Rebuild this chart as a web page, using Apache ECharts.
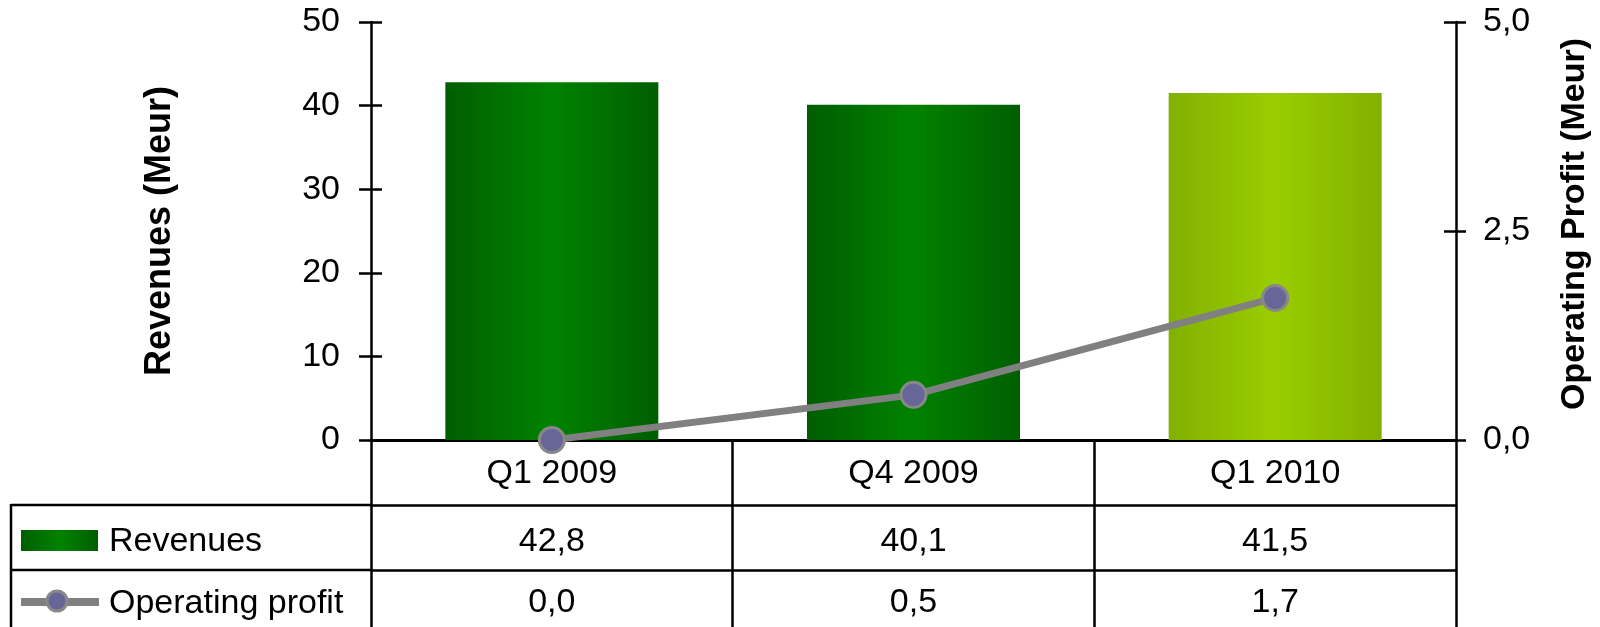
<!DOCTYPE html>
<html>
<head>
<meta charset="utf-8">
<script src="https://cdn.jsdelivr.net/npm/echarts@6/dist/echarts.min.js"></script>
<style>
  html, body { margin: 0; padding: 0; background: #fff; }
  #chart { width: 1600px; height: 627px; }
</style>
</head>
<body>
<div id="chart"></div>
<script>
// Revenues (bars) + operating profit (line) with data table below
const quarters = ['Q1 2009', 'Q4 2009', 'Q1 2010']
const revenues = [42.8, 40.1, 41.5]
const operatingProfit = [0.0, 0.54, 1.7]
const revenueAxis = { min: 0, max: 50, interval: 10 }
const profitAxis = { min: 0, max: 5, interval: 2.5 }
const seriesNames = ['Revenues', 'Operating profit']

const FONT = '"Liberation Sans", Arial, sans-serif'
const comma = (v) => v.toFixed(1).replace('.', ',')

function barGradient(edge, mid) {
  return new echarts.graphic.LinearGradient(0, 0, 1, 0, [
    { offset: 0, color: edge },
    { offset: 0.5, color: mid },
    { offset: 1, color: edge }
  ])
}
const darkGreen = () => barGradient('#005e00', '#008200')
const limeGreen = () => barGradient('#82b000', '#9acd00')

const chart = echarts.init(document.getElementById('chart'))

const labelBase = { fontSize: 34, color: '#000', fontFamily: FONT, interval: 0, verticalAlign: 'middle' }

chart.setOption({
  animation: false,
  textStyle: { fontFamily: FONT },
  grid: { left: 371, right: 142, top: 22, bottom: 187, containLabel: false },
  xAxis: [
    {
      type: 'category',
      data: quarters,
      axisLine: { lineStyle: { color: '#000', width: 3 } },
      axisTick: { show: true, interval: 0, length: 187, lineStyle: { color: '#000', width: 2.5 } },
      axisLabel: { ...labelBase, margin: 34 }
    },
    {
      type: 'category',
      data: revenues.map(comma),
      position: 'bottom',
      offset: 65,
      axisLine: { onZero: false, lineStyle: { color: '#000', width: 2.5 } },
      axisTick: { show: false },
      axisLabel: { ...labelBase, margin: 37 }
    },
    {
      type: 'category',
      data: operatingProfit.map(comma),
      position: 'bottom',
      offset: 130,
      axisLine: { onZero: false, lineStyle: { color: '#000', width: 2.5 } },
      axisTick: { show: false },
      axisLabel: { ...labelBase, margin: 33 }
    }
  ],
  yAxis: [
    {
      type: 'value',
      position: 'left',
      ...revenueAxis,
      name: 'Revenues (Meur)',
      nameLocation: 'middle',
      nameRotate: 90,
      nameGap: 193,
      nameTextStyle: { fontSize: 36, fontWeight: 'bold', color: '#000', fontFamily: FONT },
      axisLine: { show: true, lineStyle: { color: '#000', width: 2.5 } },
      axisTick: { show: true, length: 12, lineStyle: { color: '#000', width: 2.5 } },
      axisLabel: { fontSize: 34, color: '#000', fontFamily: FONT, margin: 31 },
      splitLine: { show: false }
    },
    {
      type: 'value',
      position: 'right',
      ...profitAxis,
      name: 'Operating Profit (Meur)',
      nameLocation: 'middle',
      nameRotate: 90,
      nameGap: 102,
      nameTextStyle: { fontSize: 34, fontWeight: 'bold', color: '#000', fontFamily: FONT, padding: [0, 0, 0, 14] },
      axisLine: { show: true, lineStyle: { color: '#000', width: 2.5 } },
      axisTick: { show: true, length: 10, lineStyle: { color: '#000', width: 2.5 } },
      axisLabel: { fontSize: 34, color: '#000', fontFamily: FONT, margin: 27, formatter: comma },
      splitLine: { show: false }
    },
    {
      // inner half of the crossing ticks on the left
      type: 'value',
      position: 'left',
      ...revenueAxis,
      axisLine: { show: false },
      axisTick: { show: true, inside: true, length: 11, lineStyle: { color: '#000', width: 2.5 } },
      axisLabel: { show: false },
      splitLine: { show: false }
    },
    {
      type: 'value',
      position: 'right',
      ...profitAxis,
      axisLine: { show: false },
      axisTick: { show: true, inside: true, length: 12, lineStyle: { color: '#000', width: 2.5 } },
      axisLabel: { show: false },
      splitLine: { show: false }
    }
  ],
  series: [
    {
      name: seriesNames[0],
      type: 'bar',
      yAxisIndex: 0,
      barWidth: 213,
      data: revenues.map((v, i) => ({
        value: v,
        itemStyle: { color: i === 2 ? limeGreen() : darkGreen() }
      }))
    },
    {
      name: seriesNames[1],
      type: 'line',
      yAxisIndex: 1,
      data: operatingProfit,
      z: 5,
      symbol: 'circle',
      symbolSize: 25,
      lineStyle: { color: '#808080', width: 7 },
      itemStyle: { color: '#666699', borderColor: '#888888', borderWidth: 3 }
    }
  ],
  graphic: [
    // legend cells of the data table
    { type: 'line', shape: { x1: 11, y1: 505, x2: 371, y2: 505 }, style: { stroke: '#000', lineWidth: 2.5 } },
    { type: 'line', shape: { x1: 11, y1: 570, x2: 371, y2: 570 }, style: { stroke: '#000', lineWidth: 2.5 } },
    { type: 'line', shape: { x1: 11, y1: 504, x2: 11, y2: 627 }, style: { stroke: '#000', lineWidth: 2.5 } },
    { type: 'rect', shape: { x: 21, y: 530, width: 77, height: 21 }, style: { fill: darkGreen() } },
    { type: 'text', left: 109, top: 525, style: { text: seriesNames[0], font: '34px ' + FONT, fill: '#000' } },
    { type: 'line', shape: { x1: 21, y1: 602, x2: 99, y2: 602 }, style: { stroke: '#808080', lineWidth: 8 } },
    { type: 'circle', shape: { cx: 57, cy: 601, r: 10 }, style: { fill: '#666699', stroke: '#888888', lineWidth: 3 } },
    { type: 'text', left: 109, top: 587, style: { text: seriesNames[1], font: '34px ' + FONT, fill: '#000' } }
  ]
})
</script>
</body>
</html>
